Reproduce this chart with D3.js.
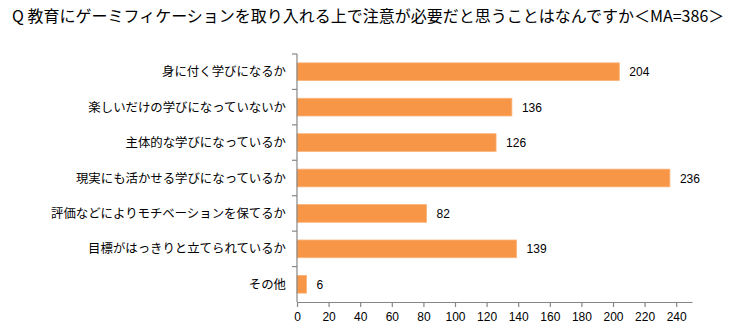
<!DOCTYPE html>
<html><head><meta charset="utf-8">
<script src="https://cdn.jsdelivr.net/npm/d3@7"></script>
<style>
body{margin:0;background:#fff;}
svg{display:block;}
</style></head>
<body><svg id="c" width="743" height="336"></svg>
<script>
const title = "Q 教育にゲーミフィケーションを取り入れる上で注意が必要だと思うことはなんですか＜MA=386＞";
const categories = ["身に付く学びになるか","楽しいだけの学びになっていないか","主体的な学びになっているか","現実にも活かせる学びになっているか","評価などによりモチベーションを保てるか","目標がはっきりと立てられているか","その他"];
const values = [204,136,126,236,82,139,6];
const xTicks = [0,20,40,60,80,100,120,140,160,180,200,220,240];
const xMax = 250;

(function(){
const svg = d3.select("#c");
const pl = 297, pr = 692, pt = 54, pb = 302;
const jp = "'Noto Sans CJK JP','Noto Sans',sans-serif";
const num = "'Liberation Sans',Arial,sans-serif";

svg.append("text").attr("x",12).attr("y",22).attr("font-family",jp).attr("font-size",16)
  .attr("fill","#000").text(title);

const x = d3.scaleLinear().domain([0,xMax]).range([pl,pr]);
const y = d3.scaleBand().domain(categories).range([pt,pb]).paddingInner(0.5).paddingOuter(0.25);

svg.append("g").selectAll("rect").data(values).join("rect")
  .attr("x",x(0)).attr("y",(d,i)=>y(categories[i]))
  .attr("width",d=>x(d)-x(0)).attr("height",y.bandwidth())
  .attr("fill","#F79646").attr("stroke","#FBB37A").attr("stroke-width",0.8);

svg.append("g").selectAll("text").data(values).join("text")
  .attr("x",d=>x(d)+10).attr("y",(d,i)=>y(categories[i])+y.bandwidth()/2+4.5)
  .attr("font-family",num).attr("font-size",12).attr("fill","#000").text(d=>d);

const xAxis = svg.append("g").attr("transform",`translate(0,${pb})`)
  .call(d3.axisBottom(x).tickValues(xTicks).tickSize(5).tickSizeOuter(0).tickPadding(5));
xAxis.select(".domain").attr("stroke","#868686").attr("stroke-width",1.2);
xAxis.selectAll(".tick line").attr("stroke","#868686").attr("stroke-width",1.2);
xAxis.selectAll(".tick text").attr("font-family",num).attr("font-size",12).attr("fill","#000");

const step = y.step();
const yg = svg.append("g");
yg.append("line").attr("x1",pl).attr("x2",pl).attr("y1",pt).attr("y2",pb)
  .attr("stroke","#868686").attr("stroke-width",1.2);
yg.selectAll("line.t").data(d3.range(categories.length)).join("line").attr("class","t")
  .attr("x1",pl-5).attr("x2",pl).attr("y1",i=>pt+i*step).attr("y2",i=>pt+i*step)
  .attr("stroke","#868686").attr("stroke-width",1.2);
yg.selectAll("text").data(categories).join("text")
  .attr("x",pl-11).attr("y",d=>y(d)+y.bandwidth()/2+4.5).attr("text-anchor","end")
  .attr("font-family",jp).attr("font-size",12.4).attr("fill","#000").text(d=>d);
})();
</script></body></html>
